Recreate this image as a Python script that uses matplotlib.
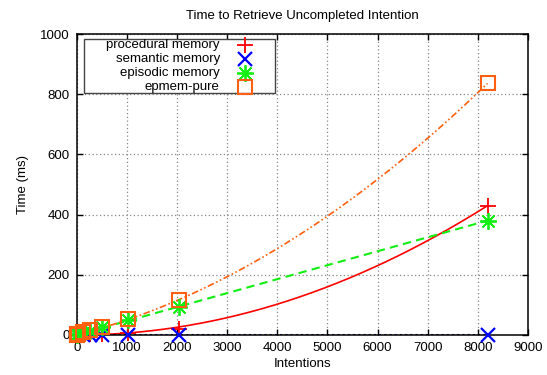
import numpy as np
from matplotlib import pyplot as plt
from matplotlib.patches import Rectangle

plt.rcParams['font.family'] = ['Liberation Sans', 'DejaVu Sans']
plt.rcParams['font.size'] = 9.5

# number of intentions
intentions = np.array([1, 8, 32, 128, 256, 512, 1024, 2048, 8192])

# retrieval time (ms)
procedural = np.array([0.5, 0.6, 1, 1.5, 2, 4, 8, 20, 430])
semantic = np.array([0.3, 0.3, 0.3, 0.3, 0.3, 0.3, 0.3, 0.3, 0.3])
episodic = np.array([1, 2, 3, 8, 14, 25, 50, 93, 380])
epmem_pure = np.array([1, 2, 4, 9, 15, 27, 52, 116, 836])

labels = ['procedural memory', 'semantic memory', 'episodic memory', 'epmem-pure']

col_red = '#ff0000'
col_blue = '#0000ff'
col_green = '#11ee11'
col_orange = '#ff5f0f'


def fit(x, y, powers):
    # least squares with the given powers of x, no constant
    A = np.column_stack([x.astype(float) ** p for p in powers])
    c = np.linalg.lstsq(A, y, rcond=None)[0]
    return lambda t: sum(ci * t ** p for ci, p in zip(c, powers))


fig = plt.figure(figsize=(5.47, 3.75), dpi=100)
ax = fig.add_axes([0.1404, 0.1067, 0.8249, 0.8026])

xs = np.linspace(0, intentions.max(), 300)
ax.plot(xs, fit(intentions, procedural, [2])(xs), color=col_red, lw=1.2, ls='-')
ax.plot(xs, fit(intentions, semantic, [0])(xs) * 0, color='#000080', lw=1.5, ls=(0, (1, 1.5)))
ax.plot(xs, fit(intentions, episodic, [1])(xs), color=col_green, lw=1.5, ls=(0, (4, 2.5)))
ax.plot(xs, fit(intentions, epmem_pure, [1, 2])(xs), color=col_orange, lw=1.2,
        ls=(0, (4, 1.5, 1, 1.5, 1, 1.5)))

styles = [
    dict(marker='+', ms=12, mew=1.3, color=col_red),
    dict(marker='x', ms=10, mew=1.6, color=col_blue),
    dict(marker=(8, 2, 0), ms=12, mew=1.3, color=col_green),
    dict(marker='s', ms=10, mew=1.5, mfc='none', color=col_orange),
]
for y, st in zip([procedural, semantic, episodic, epmem_pure], styles):
    ax.plot(intentions, y, ls='none', clip_on=False, zorder=5, **st)

ax.set_xlim(0, 9000)
ax.set_ylim(0, 1000)
ax.set_xticks(np.arange(0, 9001, 1000))
ax.set_yticks(np.arange(0, 1001, 200))
ax.tick_params(direction='in', top=True, right=True, length=4, width=1, pad=5)
ax.grid(True, color='#888888', ls=(0, (1, 2)), lw=0.9)
for s in ax.spines.values():
    s.set_linewidth(1.1)
    s.set_zorder(4)

ax.set_title('Time to Retrieve Uncompleted Intention', fontsize=9.5, pad=11)
ax.set_xlabel('Intentions', labelpad=3)
ax.set_ylabel('Time (ms)', labelpad=8)

# gnuplot style key: text right aligned, sample to the right
box = Rectangle((0.016, 0.804), 0.423, 0.179, transform=ax.transAxes,
                facecolor='white', edgecolor='#444444', lw=1.0, zorder=6)
ax.add_patch(box)
rows = [0.963, 0.917, 0.870, 0.824]
for lab, yy, st in zip(labels, rows, styles):
    ax.text(0.317, yy, lab, transform=ax.transAxes, ha='right', va='center', zorder=7)
    ax.plot([0.373], [yy], transform=ax.transAxes, ls='none', zorder=7, clip_on=False, **st)

fig.savefig('out.png', dpi=100)
